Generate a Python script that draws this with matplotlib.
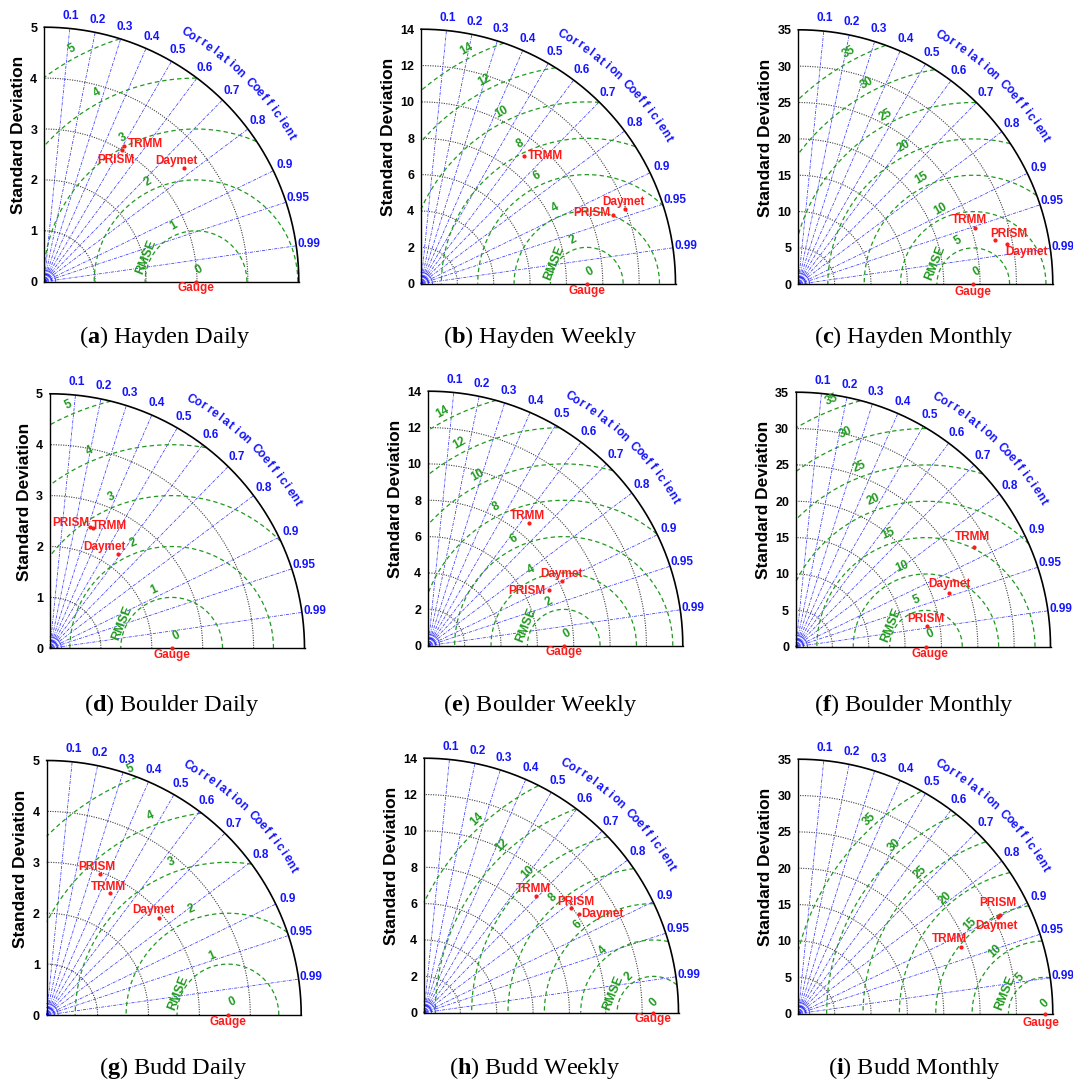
"""Taylor diagrams: gauge vs TRMM / PRISM / Daymet precipitation at three stations."""

import numpy as np
import matplotlib

matplotlib.use("Agg")
import matplotlib.pyplot as plt  # noqa: E402

W, H, DPI = 1073, 1084, 100

# ---- data (std dev and correlation) ----
panel_ids = ["a", "b", "c", "d", "e", "f", "g", "h", "i"]
stations = ["Hayden"] * 3 + ["Boulder"] * 3 + ["Budd"] * 3
scales = ["Daily", "Weekly", "Monthly"] * 3
max_std = [5, 14, 35] * 3
std_step = [1, 2, 5] * 3
rmse_step = [1, 2, 5] * 3

gauge_std = [2.98, 9.12, 24.06, 2.39, 7.45, 17.87, 3.56, 12.62, 33.9]

products = ["TRMM", "PRISM", "Daymet"]
trmm_std = [3.10, 9.02, 25.51, 2.505, 8.76, 28.07, 2.708, 8.92, 24.12]
trmm_corr = [0.508, 0.631, 0.952, 0.335, 0.635, 0.872, 0.460, 0.692, 0.925]
prism_std = [3.00, 11.21, 27.69, 2.506, 7.31, 18.17, 2.964, 9.92, 30.83]
prism_corr = [0.511, 0.941, 0.975, 0.314, 0.908, 0.988, 0.354, 0.814, 0.898]
daymet_std = [3.55, 11.95, 29.16, 2.285, 8.18, 22.31, 2.918, 10.12, 30.48]
daymet_corr = [0.775, 0.939, 0.982, 0.588, 0.900, 0.944, 0.759, 0.843, 0.900]

corr_ticks = [0.1, 0.2, 0.3, 0.4, 0.5, 0.6, 0.7, 0.8, 0.9, 0.95, 0.99]

# ---- layout (pixels of the 1073x1084 canvas) ----
origins = [(44.3, 281.7), (421, 283.7), (798.3, 284.3),
           (50, 648.3), (428.3, 645.7), (796, 646.7),
           (46.7, 1015), (424, 1012.7), (798.3, 1013.7)]
RPX = 254.5
captions_xy = [(165, 337), (540, 337), (914, 337),
               (172, 705), (540, 705), (914, 705),
               (173, 1068), (535, 1068), (914, 1068)]
# label offsets in pixels (dx, dy up): TRMM, PRISM, Daymet, Gauge
label_off = [
    [(21, 2), (-7, -10), (-8, 7), (0, -6)],
    [(21, 0), (-21, 2), (-2, 7), (0, -7)],
    [(-5, 8), (14, 6), (20, -8), (0, -8)],
    [(17, 2), (-19, 4), (-14, 7), (0, -7)],
    [(-2, 7), (-22, -1), (-1, 7), (0, -6)],
    [(-2, 10), (-1, 7), (0, 9), (4, -7)],
    [(-2, 6), (-3, 7), (-6, 8), (0, -7)],
    [(-3, 7), (5, 6), (23, 0), (0, -6)],
    [(-11, 8), (-2, 12), (-1, -9), (-4, -9)],
]
rmse_lab_angle = [120, 119, 120, 115, 119.4, 113, 113.7, 134, 133.6]
rmse_txt_off = [(-0.194, 0.098), (-0.127, 0.08), (-0.151, 0.083),
                (-0.196, 0.098), (-0.146, 0.081), (-0.135, 0.085),
                (-0.194, 0.086), (-0.157, 0.076), (-0.157, 0.08)]

BLUE = "#1414ff"
GREEN = "#1f9a1f"
RED = "#ff1a1a"
SANS = ["Liberation Sans", "DejaVu Sans"]

plt.rcParams["font.family"] = SANS
plt.rcParams["mathtext.fontset"] = "custom"
plt.rcParams["mathtext.rm"] = "Liberation Serif"
plt.rcParams["mathtext.bf"] = "Liberation Serif:bold"
fig = plt.figure(figsize=(W / DPI, H / DPI), dpi=DPI)

XL, XR, YB, YT = -0.2, 1.25, -0.15, 1.2


def draw_panel(k):
    R = max_std[k]
    ox, oy = origins[k]
    rect = [(ox + XL * RPX) / W, (H - (oy - YB * RPX)) / H,
            (XR - XL) * RPX / W, (YT - YB) * RPX / H]
    ax = fig.add_axes(rect)
    ax.set_xlim(XL * R, XR * R)
    ax.set_ylim(YB * R, YT * R)
    ax.patch.set_visible(False)

    th = np.linspace(0, np.pi / 2, 400)
    # correlation rays
    for c in corr_ticks:
        a = np.arccos(c)
        ax.plot([0, R * np.cos(a)], [0, R * np.sin(a)], color=BLUE, lw=0.55,
                ls=(0, (4, 1.5, 1, 1.5)), alpha=0.85, zorder=1)
        ax.text(1.05 * R * np.cos(a), 1.05 * R * np.sin(a), f"{c:g}",
                ha="center", va="center", color=BLUE, fontsize=8.5,
                fontweight="bold")
    for rr in [0.015, 0.03, 0.045]:
        ax.plot(rr * R * np.cos(th), rr * R * np.sin(th), color=BLUE, lw=0.5)

    # std arcs
    for s in np.arange(std_step[k], R, std_step[k]):
        ax.plot(s * np.cos(th), s * np.sin(th), color="0.25", lw=0.8,
                ls=(0, (1, 1.2)), zorder=2)
    ax.plot(R * np.cos(th), R * np.sin(th), color="k", lw=1.2, zorder=3)

    # RMSE circles around the gauge
    g = gauge_std[k]
    t = np.linspace(0, np.pi, 800)
    ang = np.deg2rad(rmse_lab_angle[k])
    bx = g + 0.04 * R
    for r in np.arange(0, R + 0.01, rmse_step[k]):
        if r > 0:
            x = g + r * np.cos(t)
            y = r * np.sin(t)
            bad = (x < 0) | (x ** 2 + y ** 2 > R ** 2)
            x = np.where(bad, np.nan, x)
            y = np.where(bad, np.nan, y)
            ax.plot(x, y, color=GREEN, lw=0.9, ls=(0, (3.5, 2.5)), zorder=2)
        d = r + 0.055 * R
        ax.text(bx + d * np.cos(ang), d * np.sin(ang), f"{r:g}",
                rotation=rmse_lab_angle[k] - 90, ha="center", va="center",
                color=GREEN, fontsize=8.5, fontweight="bold", zorder=4)
    dx, dy = rmse_txt_off[k]
    ax.text(g + dx * R, dy * R, "RMSE", rotation=68, ha="center",
            va="center", color=GREEN, fontsize=9, fontweight="bold")

    # curved axis title
    title = "Correlation Coefficient"
    angs = np.linspace(60.5, 30.4, len(title))
    for ch, a in zip(title, angs):
        ar = np.deg2rad(a)
        ax.text(1.125 * R * np.cos(ar), 1.125 * R * np.sin(ar), ch,
                rotation=a - 90, ha="center", va="center", color=BLUE,
                fontsize=8.5, fontweight="bold")

    # points
    stds = [trmm_std[k], prism_std[k], daymet_std[k]]
    cors = [trmm_corr[k], prism_corr[k], daymet_corr[k]]
    for name, s, c, off in zip(products, stds, cors, label_off[k][:3]):
        px, py = s * c, s * np.sqrt(1 - c ** 2)
        ax.plot(px, py, "o", color=RED, ms=2.0, zorder=5)
        ax.annotate(name, (px, py), xytext=(off[0] * 0.72, off[1] * 0.72),
                    textcoords="offset points", ha="center", va="center",
                    color=RED, fontsize=8.5, fontweight="bold", zorder=6)
    ax.plot(g, 0, "o", color=RED, ms=2.0, zorder=5, clip_on=False)
    off = label_off[k][3]
    ax.annotate("Gauge", (g, 0), xytext=(off[0] * 0.72, off[1] * 0.72),
                textcoords="offset points", ha="center", va="center",
                color=RED, fontsize=8.5, fontweight="bold")

    # axes
    for side in ["top", "right"]:
        ax.spines[side].set_visible(False)
    ax.spines["left"].set_position(("data", 0))
    ax.spines["bottom"].set_position(("data", 0))
    ax.spines["left"].set_bounds(0, R)
    ax.spines["bottom"].set_bounds(0, R)
    for side in ["left", "bottom"]:
        ax.spines[side].set_linewidth(1.0)
    ax.set_xticks([])
    ax.set_yticks(np.arange(0, R + 0.01, std_step[k]))
    ax.tick_params(axis="y", length=0, pad=5, labelsize=9)
    for lab in ax.get_yticklabels():
        lab.set_fontweight("bold")
    ax.set_ylabel("Standard Deviation", fontsize=12.5, fontweight="bold",
                  labelpad=3)
    ax.yaxis.label.set_y((0.576 - YB) / (YT - YB))

    cx, cy = captions_xy[k]
    fig.text(cx / W, 1 - cy / H,
             r"($\mathbf{" + panel_ids[k] + r"}$) "
             + f"{stations[k]} {scales[k]}",
             ha="center", va="center", fontsize=17.5,
             family="Liberation Serif")


for k in range(9):
    draw_panel(k)

fig.savefig("out.png", dpi=DPI)
